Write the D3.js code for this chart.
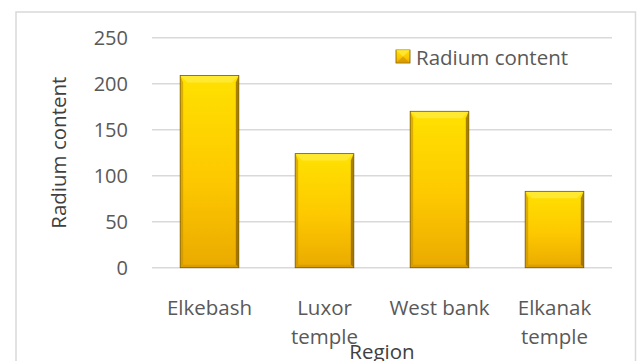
<!DOCTYPE html>
<html>
<head>
<meta charset="utf-8">
<script src="https://cdn.jsdelivr.net/npm/d3@7"></script>
<style>
  body { margin: 0; background: #fff; }
  text { font-family: "Open Sans", "Noto Sans", sans-serif; }
</style>
</head>
<body>
<div id="chart-container"></div>
<script>
// data
const regions = [["Elkebash"], ["Luxor", "temple"], ["West bank"], ["Elkanak", "temple"]];
const radium = [209, 124, 170, 83];
const yTicks = [0, 50, 100, 150, 200, 250];
const seriesName = "Radium content";

const width = 640, height = 361;
const marginTop = 37.7, marginBottom = 93.3, marginLeft = 152, marginRight = 28;

const svg = d3.select("#chart-container").append("svg")
  .attr("width", width).attr("height", height);

// outer chart border
svg.append("rect")
  .attr("x", 16).attr("y", 12)
  .attr("width", 619.5).attr("height", 360)
  .attr("fill", "none").attr("stroke", "#d9d9d9").attr("stroke-width", 1.5);

const keys = regions.map((d) => d.join(" "));

const x = d3.scaleBand()
  .domain(keys)
  .range([marginLeft, width - marginRight])
  .paddingInner(0.49).paddingOuter(0.245);

const y = d3.scaleLinear()
  .domain([0, 250])
  .range([height - marginBottom, marginTop]);

// gradient for the bars
const defs = svg.append("defs");
const grad = defs.append("linearGradient").attr("id", "barGrad")
  .attr("x1", 0).attr("y1", 0).attr("x2", 0).attr("y2", 1);
grad.append("stop").attr("offset", "0%").attr("stop-color", "#ffe100");
grad.append("stop").attr("offset", "55%").attr("stop-color", "#fdc800");
grad.append("stop").attr("offset", "100%").attr("stop-color", "#eaaa00");

// gridlines
svg.append("g")
  .selectAll("line")
  .data(yTicks)
  .join("line")
  .attr("x1", marginLeft).attr("x2", width - marginRight)
  .attr("y1", (d) => y(d)).attr("y2", (d) => y(d))
  .attr("stroke", "#d9d9d9").attr("stroke-width", 1.5);

// y axis labels
const yAxisG = svg.append("g")
  .attr("transform", `translate(${marginLeft - 24},0)`)
  .call(d3.axisLeft(y).tickValues(yTicks).tickSize(0).tickPadding(0));
yAxisG.select(".domain").remove();
yAxisG.selectAll("text")
  .attr("fill", "#595959").attr("font-size", 20)
  .attr("font-family", "Open Sans, sans-serif").attr("dy", "0.36em");

// bars with bevel
const bev = 7, side = 3;
const bar = svg.append("g").selectAll("g")
  .data(radium)
  .join("g");

bar.each(function (v, i) {
  const g = d3.select(this);
  const x0 = x(keys[i]), w = x.bandwidth();
  const y0 = y(v), y1 = y(0);
  g.append("rect")
    .attr("x", x0).attr("y", y0).attr("width", w).attr("height", y1 - y0)
    .attr("fill", "url(#barGrad)");
  // top bevel
  g.append("polygon")
    .attr("points", [[x0, y0], [x0 + w, y0], [x0 + w - bev, y0 + bev], [x0 + bev, y0 + bev]].join(" "))
    .attr("fill", "#ffea3a").attr("opacity", 0.85);
  // left / right bevel
  g.append("polygon")
    .attr("points", [[x0, y0], [x0 + side, y0 + bev], [x0 + side, y1 - side], [x0, y1]].join(" "))
    .attr("fill", "#c79100").attr("opacity", 0.6);
  g.append("polygon")
    .attr("points", [[x0 + w, y0], [x0 + w - side, y0 + bev], [x0 + w - side, y1 - side], [x0 + w, y1]].join(" "))
    .attr("fill", "#8a6200").attr("opacity", 0.75);
  // bottom bevel
  g.append("polygon")
    .attr("points", [[x0, y1], [x0 + w, y1], [x0 + w - side, y1 - side], [x0 + side, y1 - side]].join(" "))
    .attr("fill", "#c99000").attr("opacity", 0.5);
  g.append("rect")
    .attr("x", x0).attr("y", y0).attr("width", w).attr("height", y1 - y0)
    .attr("fill", "none").attr("stroke", "#7a5a00").attr("stroke-width", 0.8);
});

// x labels
const xLab = svg.append("g").selectAll("text")
  .data(regions)
  .join("text")
  .attr("x", (d) => x(d.join(" ")) + x.bandwidth() / 2)
  .attr("y", 315)
  .attr("text-anchor", "middle")
  .attr("font-size", 20.5)
  .attr("fill", "#595959");
xLab.selectAll("tspan")
  .data((d) => d)
  .join("tspan")
  .attr("x", function () { return d3.select(this.parentNode).attr("x"); })
  .attr("dy", (d, i) => (i === 0 ? 0 : 29))
  .text((d) => d);

// axis titles
svg.append("text")
  .attr("x", (marginLeft + width - marginRight) / 2)
  .attr("y", 359)
  .attr("text-anchor", "middle")
  .attr("font-size", 20.5)
  .attr("fill", "#404040")
  .text("Region");

svg.append("text")
  .attr("transform", `translate(66,${(y(0) + y(250)) / 2}) rotate(-90)`)
  .attr("text-anchor", "middle")
  .attr("font-size", 20.5)
  .attr("fill", "#404040")
  .text(seriesName);

// legend
const leg = svg.append("g").attr("transform", "translate(396,50)");
leg.append("rect").attr("width", 14).attr("height", 13).attr("fill", "url(#barGrad)")
  .attr("stroke", "#7a5a00").attr("stroke-width", 0.8);
leg.append("polygon").attr("points", "0,0 14,0 7,6.5").attr("fill", "#ffea3a").attr("opacity", 0.8);
leg.append("polygon").attr("points", "0,13 14,13 7,6.5").attr("fill", "#c99000").attr("opacity", 0.6);
leg.append("text")
  .attr("x", 20).attr("y", 14.5)
  .attr("font-size", 20.5)
  .attr("fill", "#595959")
  .text(seriesName);
</script>
</body>
</html>
